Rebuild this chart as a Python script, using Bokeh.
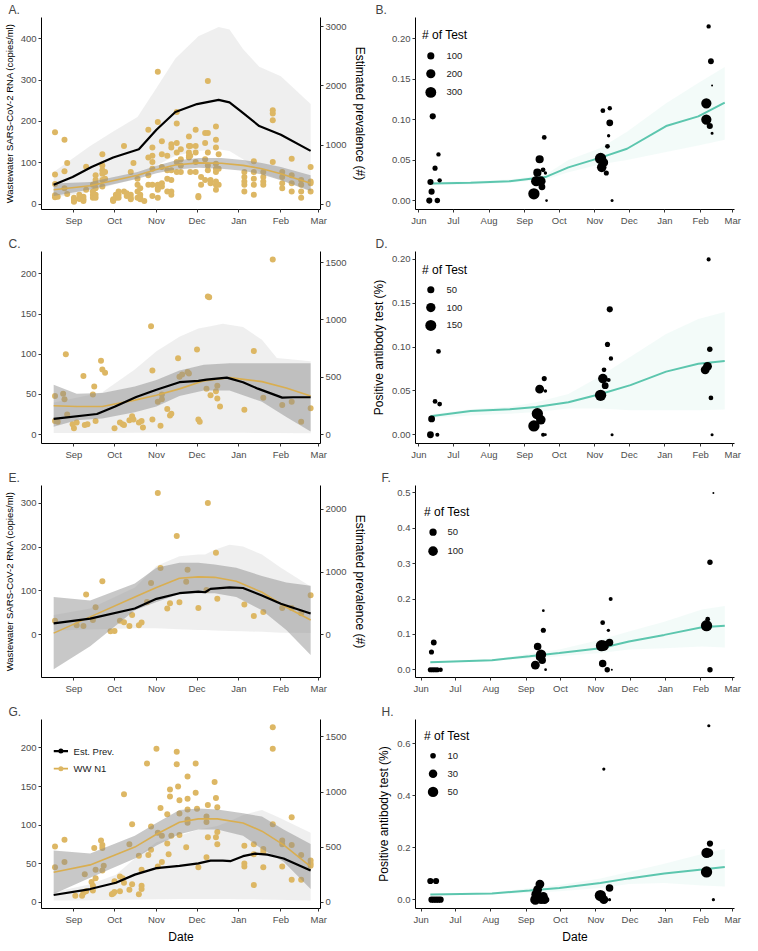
import numpy as np
import pandas as pd
from bokeh.plotting import figure
from bokeh.models import (Range1d, LinearAxis, FixedTicker, MonthsTicker, Title,
                          DatetimeTickFormatter, NumeralTickFormatter)
from bokeh.layouts import gridplot
from bokeh.embed import file_html
from bokeh.resources import INLINE
from bokeh.core.properties import value

# ======================= DATA =======================
# Wastewater panels (A, C, E, G): x = days after 2020-08-01
WW0 = "2020-08-01"
# Antibody panels (B, D, F, H): x = days after 2020-06-01
AB0 = "2020-06-01"

# ---- Panel A ----
a_ww_days = [17, 19, 24, 26, 31, 35, 38, 40, 45, 47, 52, 54, 60, 62, 64, 68, 70, 73, 75, 78, 80, 83,
             86, 89, 93, 96, 100, 103, 107, 110, 116, 117, 121, 123, 125, 128, 130, 132, 136, 138,
             157, 164, 171, 178, 185, 192, 199, 206]
a_ww_vals = [[174, 72, 49, 17, 22], [18], [156, 80, 39], [100, 25], [16, 12, 9, 8, 10, 6], [23, 13],
             [18, 12, 8], [91, 35], [47, 31, 23, 16], [70, 59, 51, 39, 23, 16], [121, 94, 82, 74, 59, 43],
             [78, 62], [12, 10, 8], [16, 23], [31, 23, 16], [141, 31], [27, 20], [78, 23, 16, 12], [100],
             [62, 47, 31, 16], [39, 23, 16, 12], [8], [180, 113, 70, 47], [137, 117, 102, 86, 47, 20],
             [320, 199, 47, 39, 35, 16], [152, 121, 90, 51, 43], [117, 82, 62, 31], [145, 137, 82, 59, 31, 23],
             [223, 195, 148, 125, 102, 78], [133, 109, 94, 78], [164, 141, 125, 117, 113], [141, 117, 78],
             [180, 141, 125, 102, 78], [20, 17], [66, 47], [172, 148, 109, 59], [298, 172, 125, 94, 82],
             [59, 51], [188, 156, 137, 98, 86, 78, 55, 47, 35], [121, 86, 47], [78, 66, 55, 47, 31],
             [104, 78, 62, 47, 23], [78, 66, 55, 47], [227, 219, 203, 102], [78, 66, 51, 39],
             [110, 70, 51, 31], [59, 47, 31, 16], [90, 55, 51, 31]]
a_fit_days = [16, 43, 78, 92, 106, 123, 140, 156, 170, 184, 206]
a_fit = [35, 45, 70, 84, 95, 100, 99, 94, 86, 74, 51]
a_fit_hi = [50, 54, 78, 93, 106, 112, 112, 107, 100, 90, 70]
a_fit_lo = [20, 36, 62, 75, 84, 88, 86, 81, 72, 58, 32]
a_prev_days = [16, 30, 44, 60, 79, 92, 106, 122, 138, 146, 155, 168, 184, 206]
a_prev = [329, 462, 630, 791, 931, 1260, 1561, 1694, 1764, 1722, 1561, 1323, 1176, 903]
a_pr_days = [16, 43, 60, 78, 92, 106, 123, 138, 146, 156, 168, 184, 206]
a_pr_hi = [546, 987, 1232, 1477, 1967, 2464, 2842, 2996, 2954, 2625, 2324, 2163, 1694]
a_pr_lo = [112, 217, 329, 434, 658, 819, 903, 931, 900, 763, 546, 413, 217]

# ---- Panel C ----
c_ww_days = [17, 17, 19, 23, 24, 25, 26, 30, 31, 33, 38, 39, 41, 45, 46, 47, 51, 52, 54, 61, 65, 67, 68,
             72, 74, 75, 79, 81, 82, 88, 89, 89, 93, 95, 96, 96, 100, 102, 103, 108, 109, 111, 115, 116,
             122, 123, 124, 129, 130, 131, 132, 136, 137, 137, 139, 157, 164, 171, 178, 185, 192, 199, 206]
c_ww_vals = [48, 17, 16, 51, 44, 100, 25, 13, 8, 15, 73, 12, 13, 50, 60, 17, 92, 81, 77, 8, 15, 13, 12,
             18, 23, 19, 15, 17, 9, 135, 19, 80, 41, 11, 44, 50, 32, 24, 26, 95, 72, 75, 78, 76,
             106, 19, 16, 57, 172, 171, 49, 54, 61, 45, 35, 31, 104, 46, 218, 37, 41, 16, 33]
c_fit_days = [16, 33, 52, 76, 92, 109, 127, 146, 170, 188, 206]
c_fit = [36, 35, 35, 43, 49, 57, 67, 71, 66, 58, 48]
c_fit_hi = [62, 51, 52, 60, 68, 80, 87, 89, 89, 89, 89]
c_fit_lo = [10, 18, 20, 28, 35, 48, 55, 55, 41, 22, 4]
c_prev_days = [16, 48, 61, 77, 92, 109, 123, 129, 144, 156, 167, 185, 193, 206]
c_prev = [137, 180, 243, 328, 392, 457, 469, 480, 497, 457, 401, 323, 326, 326]
c_pr_days = [16, 52, 76, 92, 109, 123, 132, 141, 156, 170, 181, 206]
c_pr_hi = [280, 370, 567, 726, 854, 924, 945, 966, 938, 826, 669, 640]
c_pr_lo = [14, 15, 16, 16, 17, 17, 17, 17, 16, 15, 14, 12]

# ---- Panel E ----
e_ww_days = [17, 33, 38, 40, 45, 47, 52, 58, 61, 65, 68, 72, 74, 79, 81, 85, 88, 93, 95, 100, 102, 107,
             109, 114, 115, 123, 129, 130, 136, 137, 157, 164, 171, 185, 192, 199, 206]
e_ww_vals = [32, 22, 20, 92, 34, 63, 122, 8, 9, 32, 29, 20, 45, 22, 28, 75, 118, 323, 152, 60, 72, 225,
             74, 121, 148, 61, 102, 300, 187, 82, 69, 43, 52, 61, 61, 49, 90]
e_fit_days = [16, 43, 76, 92, 109, 123, 135, 151, 170, 188, 206]
e_fit = [4, 41, 86, 108, 129, 132, 131, 122, 97, 63, 34]
e_fit_hi = [86, 78, 117, 153, 164, 164, 160, 153, 134, 119, 112]
e_fit_lo = [-78, -26, 56, 75, 93, 95, 95, 86, 56, 11, -46]
e_prev_days = [16, 43, 76, 92, 109, 123, 128, 132, 146, 156, 170, 184, 206]
e_prev = [182, 259, 420, 574, 664, 690, 679, 732, 756, 747, 627, 497, 340]
e_pr_days = [16, 43, 76, 92, 109, 123, 128, 135, 146, 156, 170, 184, 206]
e_pr_hi = [315, 420, 756, 1099, 1253, 1281, 1281, 1358, 1435, 1407, 1281, 1071, 770]
e_pr_lo = [70, 84, 105, 105, 91, 77, 77, 70, 63, 56, 49, 35, 28]

# ---- Panel G ----
g_ww_days = [17, 17, 24, 24, 32, 37, 38, 39, 40, 44, 45, 45, 46, 47, 47, 51, 52, 52, 52, 53, 59, 60, 61,
             61, 65, 65, 67, 68, 68, 72, 72, 74, 74, 79, 79, 81, 81, 81, 85, 86, 88, 88, 92, 93, 93, 95,
             96, 96, 100, 100, 101, 102, 102, 103, 107, 107, 108, 109, 109, 109, 114, 115, 115, 115, 115,
             115, 121, 121, 122, 123, 129, 129, 129, 130, 130, 135, 136, 136, 137, 137, 137, 157, 157,
             157, 164, 164, 164, 171, 171, 171, 178, 178, 178, 185, 185, 185, 192, 192, 192, 199, 199,
             206, 206, 206]
g_ww_vals = [72, 45, 81, 52, 8, 8, 12, 36, 14, 26, 21, 15, 70, 42, 31, 80, 74, 70, 41, 47, 10, 11, 27,
             13, 33, 14, 31, 140, 25, 75, 16, 23, 101, 60, 10, 21, 42, 17, 180, 61, 68, 98, 199, 90, 46,
             122, 52, 86, 114, 76, 62, 146, 137, 86, 195, 179, 150, 87, 132, 115, 71, 163, 134, 120, 107,
             103, 180, 142, 121, 45, 111, 104, 58, 126, 84, 156, 135, 84, 123, 91, 75, 73, 50, 46, 75,
             22, 62, 69, 65, 45, 227, 199, 101, 80, 75, 46, 110, 74, 29, 61, 29, 54, 50, 47]
g_fit_days = [16, 43, 76, 92, 109, 123, 137, 156, 170, 186, 206]
g_fit = [38.6, 48.2, 71.3, 88, 103.6, 108, 108, 102.7, 92, 74.2, 46]
g_fit_hi = [67, 63, 86, 102.7, 119.5, 121.6, 120.3, 115.3, 111, 94.3, 75.5]
g_fit_lo = [10.5, 31.4, 56.6, 73.4, 88, 94.3, 94.3, 86, 69, 52.4, 16.8]
g_prev_days = [16, 43, 62, 76, 92, 109, 123, 132, 141, 147, 156, 165, 174, 186, 206]
g_prev = [64, 118, 175, 249, 308, 329, 352, 376, 376, 372, 417, 440, 431, 396, 287]
g_pr_days = [16, 43, 62, 76, 92, 109, 123, 137, 146, 156, 170, 181, 206]
g_pr_hi = [88, 161, 249, 396, 543, 602, 660, 690, 734, 791, 837, 777, 630]
g_pr_lo = [14, 17, 21, 24, 26, 28, 28, 28, 28, 26, 24, 21, 14]

# ---- Panel B ----
b_days = [9, 16, 10, 11, 12, 14, 17, 18, 100, 102, 103, 105, 106, 107, 108, 109, 110, 111,
          158, 159, 161, 160, 163, 164, 165, 166, 166, 168, 250, 250, 253, 252, 254, 255, 255]
b_vals = [0, 0, 0.023, 0.011, 0.104, 0.040, 0.057, 0.025, 0.0084, 0.024, 0.0345, 0.051, 0.024, 0.017,
          0.038, 0.078, 0.034, 0, 0.052, 0.041, 0.047, 0.111, 0.034, 0.067, 0.080, 0.096, 0.114, 0,
          0.120, 0.100, 0.092, 0.215, 0.172, 0.142, 0.083]
b_n = [66, 46, 66, 66, 66, 38, 23, 23, 330, 261, 147, 147, 219, 89, 30, 30, 8, 3,
       330, 219, 147, 30, 38, 30, 8, 89, 23, 5, 261, 261, 66, 23, 56, 1, 5]
b_fit_days = [11, 45, 79, 110, 130, 158, 181, 215, 243, 266]
b_fit = [0.021, 0.022, 0.024, 0.029, 0.041, 0.053, 0.064, 0.092, 0.104, 0.121]
b_fit_hi = [0.023, 0.024, 0.026, 0.032, 0.05, 0.065, 0.085, 0.12, 0.145, 0.165]
b_fit_lo = [0.019, 0.020, 0.022, 0.026, 0.035, 0.045, 0.05, 0.06, 0.068, 0.075]
b_breaks = [100, 200, 300]

# ---- Panel D ----
d_days = [10, 16, 11, 14, 17, 18, 100, 103, 106, 105, 108, 109, 110, 110,
          158, 160, 162, 161, 164, 165, 166, 167, 168, 249, 251, 252, 253, 254, 255]
d_vals = [0, 0, 0.018, 0.038, 0.095, 0.035, 0.010, 0.024, 0.017, 0.052, 0, 0.064, 0.050, 0,
          0.045, 0.064, 0.056, 0.074, 0.103, 0.0625, 0.143, 0.087, 0, 0.074, 0.078, 0.200, 0.0975, 0.042, 0]
d_n = [44, 9, 44, 15, 15, 15, 160, 160, 106, 88, 9, 19, 5, 2,
       160, 106, 44, 15, 19, 9, 32, 12, 3, 88, 88, 9, 23, 15, 3]
d_fit_days = [10, 45, 79, 102, 130, 158, 184, 215, 243, 266]
d_fit = [0.021, 0.027, 0.029, 0.0316, 0.037, 0.0465, 0.0566, 0.072, 0.081, 0.084]
d_fit_hi = [0.023, 0.029, 0.032, 0.037, 0.0465, 0.067, 0.089, 0.115, 0.132, 0.14]
d_fit_lo = [0.019, 0.022, 0.024, 0.026, 0.030, 0.030, 0.028, 0.028, 0.028, 0.0287]
d_breaks = [50, 100, 150]

# ---- Panel F ----
f_days = [9, 11, 8, 10, 12, 14, 17, 100, 102, 104, 105, 106, 107, 107, 109,
          158, 160, 159, 159, 163, 164, 165, 166, 167, 250, 251, 253, 253, 256]
f_vals = [0.050, 0.077, 0, 0, 0, 0, 0, 0.013, 0.066, 0.036, 0.043, 0.027, 0.1115, 0.167, 0,
          0.068, 0.068, 0.133, 0.0177, 0, 0.1115, 0.077, 0.200, 0, 0.1245, 0.143, 0.304, 0, 0.500]
f_n = [18, 26, 18, 18, 18, 18, 11, 83, 53, 67, 119, 53, 18, 2, 2,
       150, 119, 14, 53, 21, 4, 53, 8, 1, 150, 14, 21, 21, 1]
f_fit_days = [8, 62, 95, 121, 157, 182, 213, 246, 266]
f_fit = [0.021, 0.027, 0.038, 0.047, 0.061, 0.080, 0.0985, 0.12, 0.1245]
f_fit_hi = [0.023, 0.029, 0.0455, 0.057, 0.085, 0.108, 0.136, 0.17, 0.18]
f_fit_lo = [0.019, 0.025, 0.032, 0.038, 0.047, 0.057, 0.061, 0.066, 0.063]
f_breaks = [50, 100]

# ---- Panel H ----
h_days = [8, 13, 9, 11, 13, 15, 17, 100, 101, 102, 104, 105, 107, 108, 110,
          157, 160, 160, 165, 165, 250, 250, 252, 253, 252, 256]
h_vals = [0.072, 0.072, 0, 0, 0, 0, 0, 0, 0.02, 0.039, 0.06, 0, 0.013, 0, 0,
          0.016, 0, 0.503, 0.045, 0, 0.107, 0.18, 0.18, 0.216, 0.67, 0]
h_n = [13, 13, 13, 13, 13, 13, 13, 48, 48, 33, 33, 33, 33, 33, 8,
       60, 33, 2, 22, 2, 60, 48, 33, 13, 2, 2]
h_fit_days = [8, 62, 95, 121, 157, 182, 213, 246, 266]
h_fit = [0.02, 0.024, 0.035, 0.045, 0.064, 0.082, 0.101, 0.116, 0.126]
h_fit_hi = [0.022, 0.027, 0.045, 0.057, 0.082, 0.107, 0.138, 0.176, 0.195]
h_fit_lo = [0.018, 0.021, 0.026, 0.032, 0.045, 0.06, 0.064, 0.055, 0.051]
h_breaks = [10, 30, 50]

# ======================= STYLE =======================
FONT = "Liberation Sans"
GOLD_PT = "#DDB764"
GOLD_LN = "#D9AE50"
TEAL = "#5CC6AE"
LIGHT = "#E2E2E2"
DARK = "#8A8A8A"
PREV_FACTOR = 7.0  # secondary axis scale (prevalence = 7 x copies/ml)
LW, RW = 369, 373   # column widths
RH, RH4 = 234, 241  # row heights
BT = 15             # top border
BB, BB4 = 25, 29    # bottom borders


def ms(base, days):
    return pd.Timestamp(base).value / 1e6 + np.asarray(days, dtype=float) * 86400000.0


def style_axis(ax):
    ax.axis_line_color = "black"
    ax.axis_line_width = 1
    ax.major_tick_line_color = "#333333"
    ax.major_tick_out = 3
    ax.major_tick_in = 0
    ax.minor_tick_line_color = None
    ax.major_label_text_font = FONT
    ax.major_label_text_font_size = "9.5px"
    ax.major_label_text_color = "#4D4D4D"
    ax.major_label_standoff = 2
    ax.axis_label_text_font = FONT
    ax.axis_label_text_font_style = "normal"
    ax.axis_label_text_color = "black"
    ax.axis_label_standoff = 3


def base_fig(w, h, bl, br, bt, bb, xr, yr, label, toff):
    p = figure(width=w, height=h, x_axis_type="datetime",
               x_range=Range1d(xr[0], xr[1]), y_range=Range1d(yr[0], yr[1]),
               output_backend="svg", toolbar_location=None,
               min_border_left=bl, min_border_right=br, min_border_top=bt, min_border_bottom=bb,
               outline_line_color=None, background_fill_color="white", border_fill_color="white")
    p.xgrid.visible = False
    p.ygrid.visible = False
    p.title.text = label
    p.title.text_font = FONT
    p.title.text_font_size = "12px"
    p.title.text_font_style = "normal"
    p.title.align = "left"
    p.title.offset = toff
    p.title.standoff = 1
    xa = p.xaxis[0]
    xa.ticker = MonthsTicker(months=list(range(12)))
    xa.formatter = DatetimeTickFormatter(months="%b", days="%b", years="%b", hours="%b")
    style_axis(xa)
    style_axis(p.yaxis[0])
    return p


def fx(p, f):
    return p.x_range.start + f * (p.x_range.end - p.x_range.start)


def fy(p, f):
    return p.y_range.end - f * (p.y_range.end - p.y_range.start)


def add_xlabel(p, text):
    t = Title(text=text, align="center", text_font=FONT, text_font_size="12px",
              text_font_style="normal", text_color="black", standoff=0)
    p.add_layout(t, "below")


def ww_panel(label, yr, lticks, rticks, ww_x, ww_y, fit_x, fit_y, fit_hi, fit_lo,
             pv_x, pv_y, pr_x, pr_hi, pr_lo, ylab=None, rlab=None, xlab=None, h=RH, bb=BB):
    xr = (ms(WW0, 7), ms(WW0, 213.3))
    p = base_fig(LW, h, 36, 45, BT, bb, xr, yr, label, -33)
    p.extra_y_ranges = {"prev": Range1d(PREV_FACTOR * yr[0], PREV_FACTOR * yr[1])}
    p.varea(x=ms(WW0, pr_x), y1=pr_lo, y2=pr_hi, y_range_name="prev",
            fill_color=LIGHT, fill_alpha=0.55)
    p.scatter(x=ms(WW0, ww_x), y=ww_y, size=6, fill_color=GOLD_PT, line_color=None)
    p.varea(x=ms(WW0, fit_x), y1=fit_lo, y2=fit_hi, fill_color=DARK, fill_alpha=0.47)
    p.line(x=ms(WW0, fit_x), y=fit_y, line_color=GOLD_LN, line_width=1.6)
    p.line(x=ms(WW0, pv_x), y=pv_y, y_range_name="prev", line_color="black", line_width=2.2)
    p.yaxis[0].ticker = FixedTicker(ticks=lticks)
    p.yaxis[0].axis_label = ylab
    p.yaxis[0].axis_label_text_font_size = "9.5px"
    ra = LinearAxis(y_range_name="prev", ticker=FixedTicker(ticks=rticks))
    style_axis(ra)
    ra.axis_label = rlab
    ra.axis_label_text_font_size = "12px"
    p.add_layout(ra, "right")
    if xlab:
        add_xlabel(p, xlab)
    return p


def ab_panel(label, yr, ticks, fmt, x0, days, vals, ns, nmin, nmax, fd, fit, fhi, flo,
             breaks, leg, bl, toff, ylab=None, xlab=None, h=RH, bb=BB):
    xr = (ms(AB0, x0), ms(AB0, 274.5))
    p = base_fig(RW, h, bl, 8, BT, bb, xr, yr, label, toff)
    p.varea(x=ms(AB0, fd), y1=flo, y2=fhi, fill_color=TEAL, fill_alpha=0.07)
    p.line(x=ms(AB0, fd), y=fit, line_color=TEAL, line_width=2)

    def sz(n):
        return 2 + 9.3 * np.sqrt(np.clip((np.asarray(n, float) - nmin) / (nmax - nmin), 0, 1))

    p.scatter(x=ms(AB0, days), y=vals, size=sz(ns), fill_color="black", line_color=None)
    p.yaxis[0].ticker = FixedTicker(ticks=ticks)
    p.yaxis[0].formatter = NumeralTickFormatter(format=fmt)
    p.yaxis[0].axis_label = ylab
    p.yaxis[0].axis_label_text_font_size = "12px"
    if xlab:
        add_xlabel(p, xlab)
    # size legend
    tx, ty, cx, cys, lx = leg
    p.text(x=[fx(p, tx)], y=[fy(p, ty)], text=["# of Test"], text_font=value(FONT),
           text_font_size="12px", text_baseline="middle", text_align="left", text_color="black")
    ys = [fy(p, c) for c in cys]
    p.scatter(x=[fx(p, cx)] * len(breaks), y=ys, size=sz(breaks), fill_color="black", line_color=None)
    p.text(x=[fx(p, lx)] * len(breaks), y=ys, text=[str(b) for b in breaks], text_font=value(FONT),
           text_font_size="9.5px", text_baseline="middle", text_align="left", text_color="#1A1A1A")
    return p


def expand(days, groups):
    xs, ys = [], []
    for d, g in zip(days, groups):
        for v in g:
            xs.append(d)
            ys.append(v)
    return xs, ys


a_x, a_y = expand(a_ww_days, a_ww_vals)

pA = ww_panel("A.", (-12.5, 451), [0, 100, 200, 300, 400], [0, 1000, 2000, 3000],
              a_x, a_y, a_fit_days, a_fit, a_fit_hi, a_fit_lo,
              a_prev_days, a_prev, a_pr_days, a_pr_hi, a_pr_lo,
              ylab="Wastewater SARS-CoV-2 RNA (copies/ml)", rlab="Estimated prevalence (#)")
pC = ww_panel("C.", (-11, 228), [0, 50, 100, 150, 200], [0, 500, 1000, 1500],
              c_ww_days, c_ww_vals, c_fit_days, c_fit, c_fit_hi, c_fit_lo,
              c_prev_days, c_prev, c_pr_days, c_pr_hi, c_pr_lo)
pE = ww_panel("E.", (-97, 340), [0, 100, 200, 300], [0, 1000, 2000],
              e_ww_days, e_ww_vals, e_fit_days, e_fit, e_fit_hi, e_fit_lo,
              e_prev_days, e_prev, e_pr_days, e_pr_hi, e_pr_lo,
              ylab="Wastewater SARS-CoV-2 RNA (copies/ml)", rlab="Estimated prevalence (#)")
pG = ww_panel("G.", (-8.4, 237), [0, 50, 100, 150, 200], [0, 500, 1000, 1500],
              g_ww_days, g_ww_vals, g_fit_days, g_fit, g_fit_hi, g_fit_lo,
              g_prev_days, g_prev, g_pr_days, g_pr_hi, g_pr_lo, xlab="Date", h=RH4, bb=BB4)

# legend in G
ly1, ly2 = fy(pG, 0.167), fy(pG, 0.26)
x0l, x1l, xm, xt = fx(pG, 0.044), fx(pG, 0.095), fx(pG, 0.0695), fx(pG, 0.115)
pG.line(x=[x0l, x1l], y=[ly1, ly1], line_color="black", line_width=2.2)
pG.scatter(x=[xm], y=[ly1], size=5, fill_color="black", line_color=None)
pG.line(x=[x0l, x1l], y=[ly2, ly2], line_color=GOLD_LN, line_width=1.6)
pG.scatter(x=[xm], y=[ly2], size=5, fill_color=GOLD_PT, line_color=None)
pG.text(x=[xt, xt], y=[ly1, ly2], text=["Est. Prev.", "WW N1"], text_font=value(FONT),
        text_font_size="9.5px", text_baseline="middle", text_align="left", text_color="#1A1A1A")

pB = ab_panel("B.", (-0.011, 0.226), [0, 0.05, 0.10, 0.15, 0.20], "0.00", -3,
              b_days, b_vals, b_n, 1, 330, b_fit_days, b_fit, b_fit_hi, b_fit_lo,
              b_breaks, (0.0205, 0.093, 0.048, [0.2, 0.293, 0.39], 0.097), 43, -40)
pD = ab_panel("D.", (-0.010, 0.209), [0, 0.05, 0.10, 0.15, 0.20], "0.00", -3,
              d_days, d_vals, d_n, 1, 160, d_fit_days, d_fit, d_fit_hi, d_fit_lo,
              d_breaks, (0.0205, 0.097, 0.048, [0.199, 0.292, 0.385], 0.097), 43, -40,
              ylab="Positive antibody test (%)")
pF = ab_panel("F.", (-0.022, 0.521), [0, 0.1, 0.2, 0.3, 0.4, 0.5], "0.0", -5,
              f_days, f_vals, f_n, 1, 150, f_fit_days, f_fit, f_fit_hi, f_fit_lo,
              f_breaks, (0.027, 0.14, 0.055, [0.243, 0.342], 0.1), 37, -34)
pH = ab_panel("H.", (-0.034, 0.694), [0, 0.2, 0.4, 0.6], "0.0", -5,
              h_days, h_vals, h_n, 1, 60, h_fit_days, h_fit, h_fit_hi, h_fit_lo,
              h_breaks, (0.027, 0.086, 0.055, [0.192, 0.287, 0.383], 0.1), 37, -34,
              ylab="Positive antibody test (%)", xlab="Date", h=RH4, bb=BB4)

grid = gridplot([[pA, pB], [pC, pD], [pE, pF], [pG, pH]], toolbar_location=None)

open("out.html", "w").write(file_html(grid, INLINE))
